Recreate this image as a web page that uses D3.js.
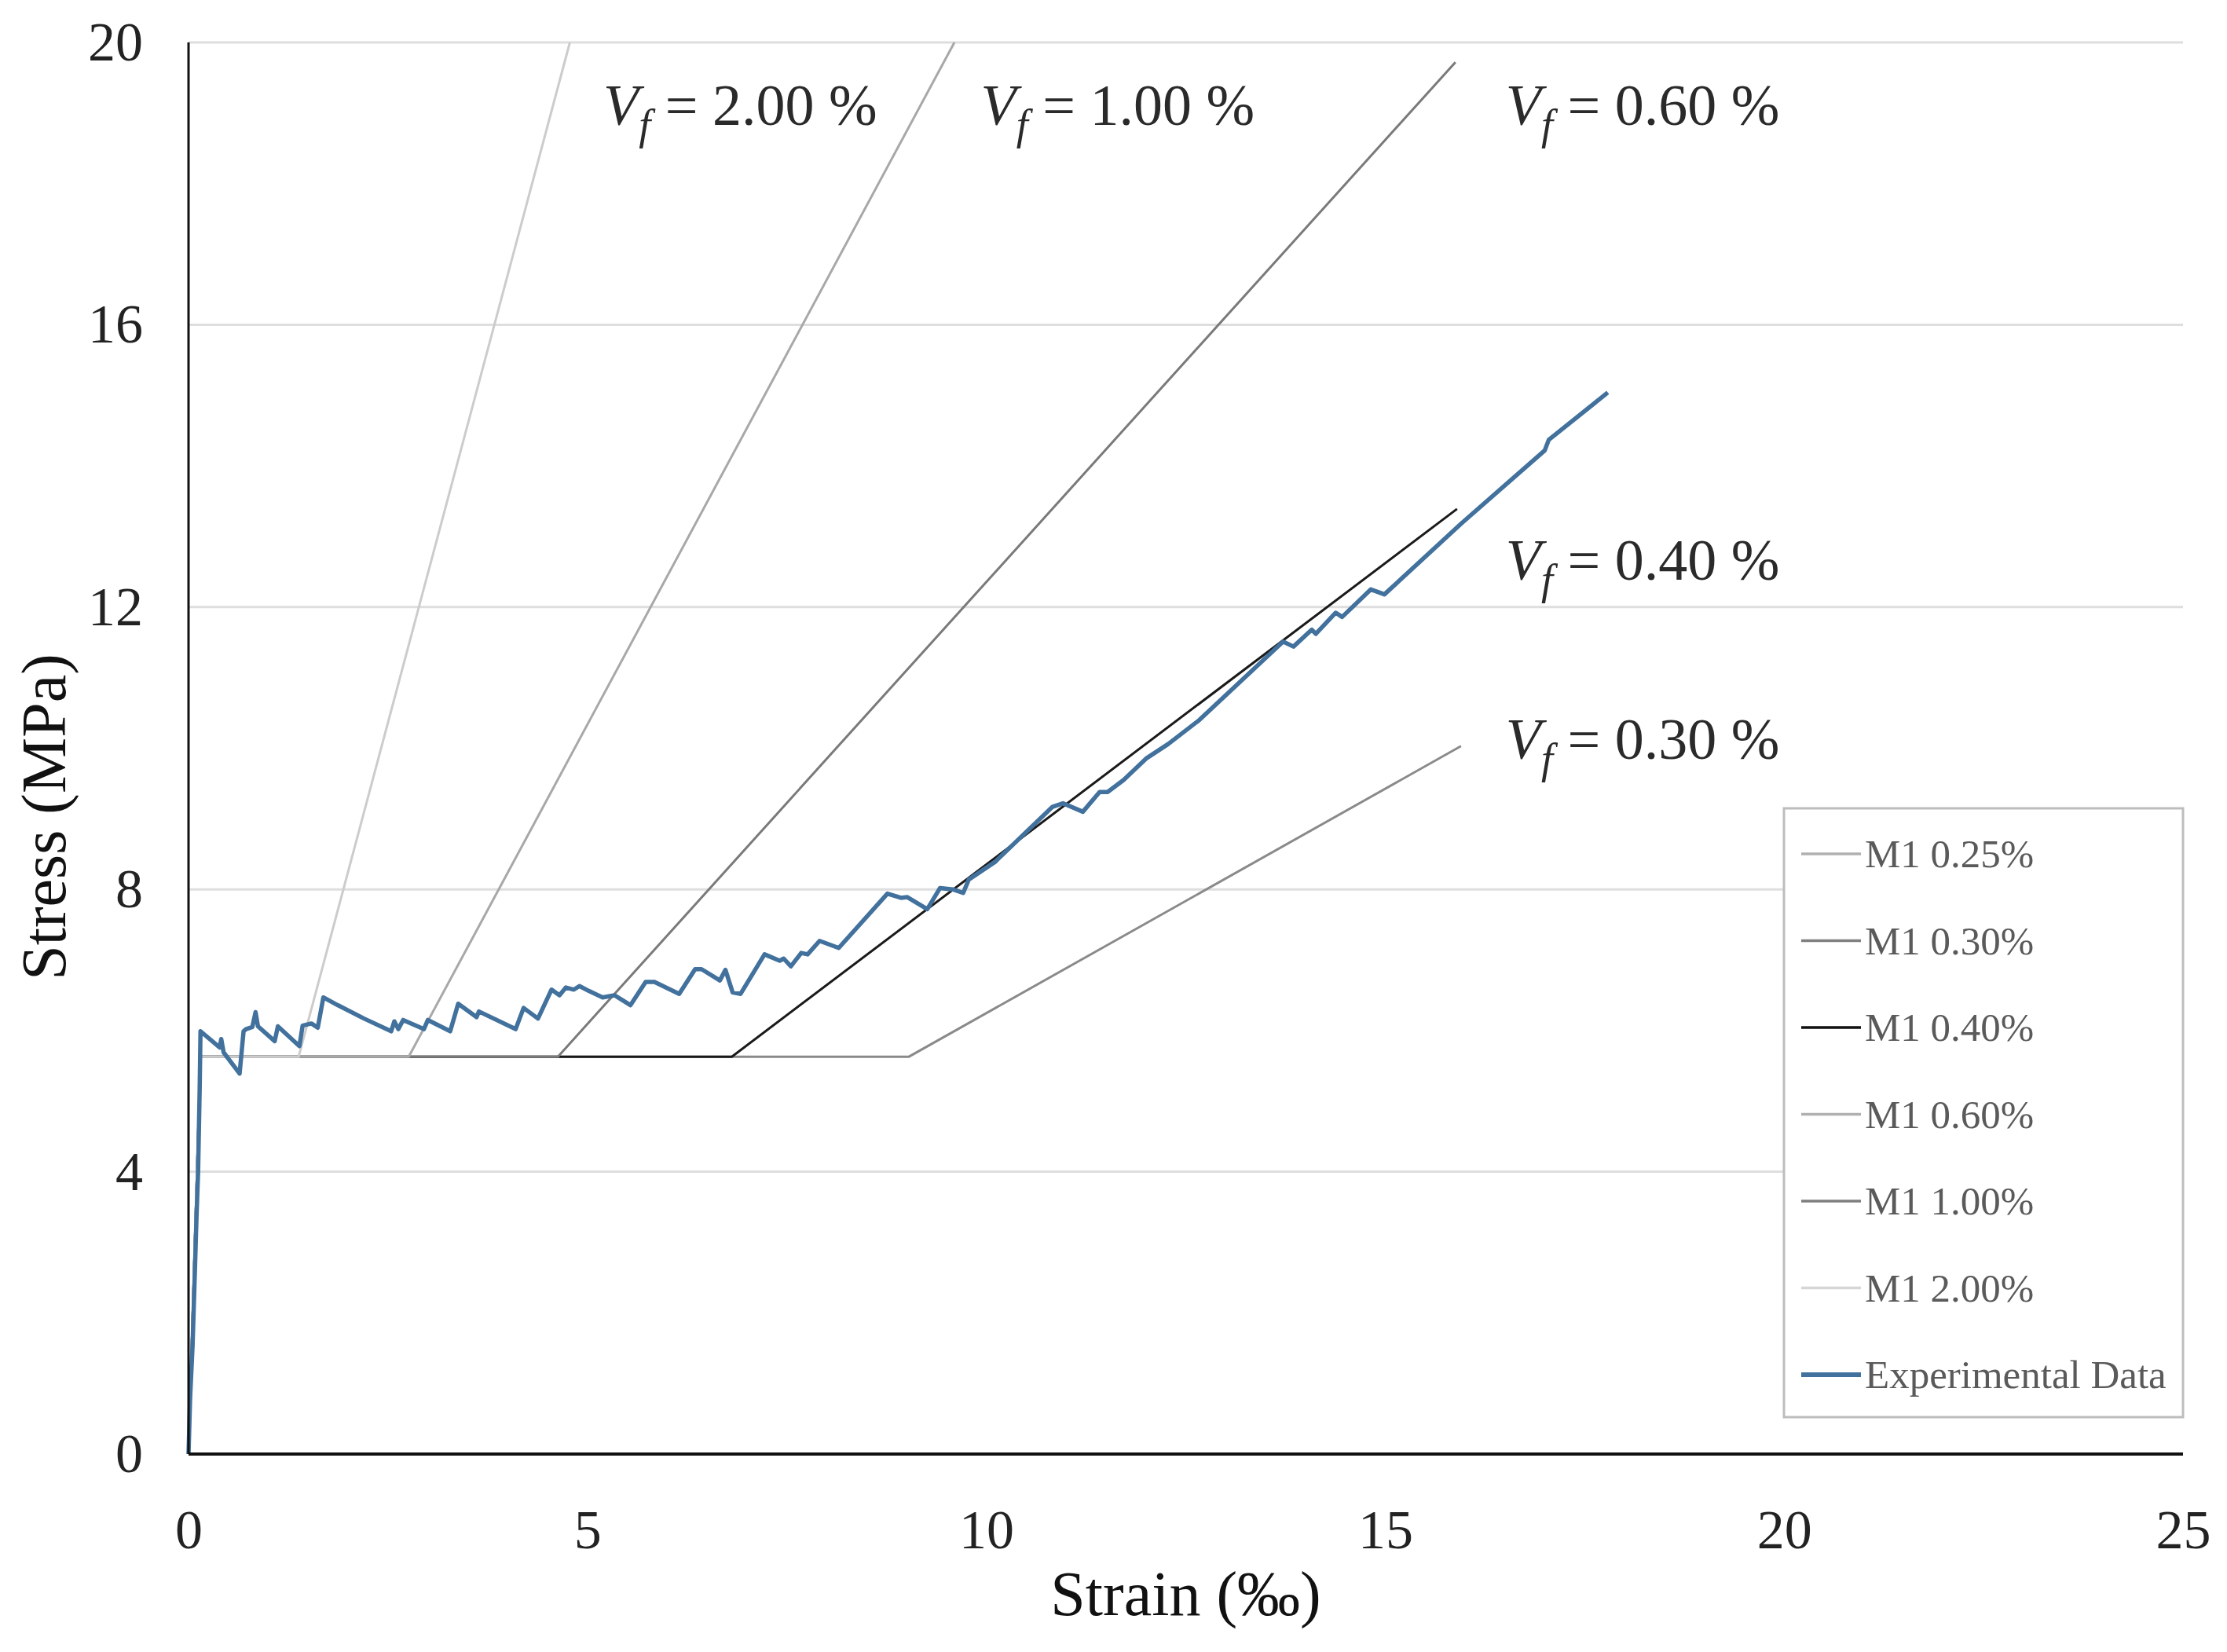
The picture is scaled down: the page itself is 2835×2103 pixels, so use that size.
<!DOCTYPE html>
<html>
<head>
<meta charset="utf-8">
<script src="https://cdn.jsdelivr.net/npm/d3@7"></script>
<style>
  body { margin: 0; background: #fff; }
</style>
</head>
<body>
<div id="chart"></div>
<script>
// axis ticks
var strainTicks = [0, 5, 10, 15, 20, 25];
var stressTicks = [0, 4, 8, 12, 16, 20];

// bilinear model lines
var modelNames = ["M1 0.25%", "M1 0.30%", "M1 0.40%", "M1 0.60%", "M1 1.00%", "M1 2.00%"];
var elasticStrain = 0.15;
var plateauStress = 5.63;
var kinkStrain = [null, 9.03, 6.81, 4.63, 2.76, 1.38];
var endStrain = [null, 15.95, 15.90, 15.88, 9.60, 4.78];
var endStress = [null, 10.03, 13.39, 19.72, 20, 20];

// experimental curve
var expStrain = [0, 0.02, 0.05, 0.08, 0.10, 0.12, 0.14, 0.15,
  0.39, 0.41, 0.44, 0.64, 0.69, 0.72, 0.80, 0.84, 0.87, 1.08, 1.12, 1.39,
  1.43, 1.54, 1.62, 1.69, 1.87, 2.20, 2.54, 2.58, 2.63, 2.69, 2.95, 3.00,
  3.28, 3.38, 3.61, 3.64, 4.10, 4.20, 4.38, 4.55, 4.65, 4.73, 4.83, 4.90,
  5.02, 5.19, 5.34, 5.54, 5.73, 5.84, 6.15, 6.35, 6.43, 6.66, 6.73, 6.82,
  6.92, 7.22, 7.41, 7.46, 7.55, 7.68, 7.76, 7.91, 8.15, 8.76, 8.93, 9.01,
  9.26, 9.42, 9.58, 9.71, 9.78, 10.11, 10.83, 10.96, 11.21, 11.42, 11.52,
  11.72, 12.01, 12.28, 12.67, 13.72, 13.85, 14.08, 14.13, 14.38, 14.46,
  14.82, 14.99, 15.95, 17.00, 17.05, 17.79];
var expStress = [0, 0.8, 1.52, 2.6, 3.36, 4.0, 5.2, 5.99,
  5.76, 5.88, 5.69, 5.39, 5.99, 6.02, 6.05, 6.26, 6.06, 5.85, 6.06, 5.78,
  6.07, 6.10, 6.04, 6.47, 6.36, 6.17, 5.99, 6.13, 6.02, 6.15, 6.02, 6.15,
  5.99, 6.38, 6.19, 6.27, 6.02, 6.32, 6.17, 6.58, 6.50, 6.61, 6.58, 6.63,
  6.56, 6.47, 6.50, 6.36, 6.69, 6.69, 6.52, 6.87, 6.87, 6.71, 6.86, 6.54,
  6.52, 7.08, 6.99, 7.02, 6.91, 7.10, 7.08, 7.27, 7.17, 7.94, 7.88, 7.89,
  7.72, 8.02, 8.00, 7.95, 8.14, 8.39, 9.17, 9.22, 9.10, 9.38, 9.38,
  9.55, 9.86, 10.06, 10.40, 11.51, 11.44, 11.68, 11.62, 11.92, 11.86,
  12.25, 12.18, 13.18, 14.22, 14.37, 15.04];

// annotations
var vfValues = ["2.00", "1.00", "0.60", "0.40", "0.30"];
var vfStrain = [5.2, 9.93, 16.51, 16.51, 16.51];
var vfStress = [18.83, 18.83, 18.83, 12.39, 9.85];

var legendNames = modelNames.concat(["Experimental Data"]);

// styles
var lineColor = {"M1 0.30%": "#8a8a8a", "M1 0.40%": "#1a1a1a", "M1 0.60%": "#7a7a7a",
  "M1 1.00%": "#a8a8a8", "M1 2.00%": "#cccccc"};
var legendColor = ["#b0b0b0", "#7f7f7f", "#111111", "#b0b0b0", "#7f7f7f", "#d6d6d6", "#41719c"];
var expColor = "#41719c";

var width = 2835;
var height = 2103;
var margin = { top: 54, right: 56, bottom: 252, left: 240 };

var svg = d3.select("#chart")
  .append("svg")
  .attr("width", width)
  .attr("height", height)
  .style("background", "#fff");

var x = d3.scaleLinear().domain([0, 25]).range([margin.left, width - margin.right]);
var y = d3.scaleLinear().domain([0, 20]).range([height - margin.bottom, margin.top]);

// horizontal gridlines
svg.append("g")
  .selectAll("line")
  .data(stressTicks.filter(d => d > 0))
  .enter()
  .append("line")
  .attr("x1", x(0))
  .attr("x2", x(25))
  .attr("y1", d => y(d))
  .attr("y2", d => y(d))
  .style("stroke", "#dedede")
  .style("stroke-width", 3);

// tick labels through axes (no tick marks, no domain)
var xAxis = svg.append("g")
  .attr("transform", "translate(0," + y(0) + ")")
  .call(d3.axisBottom(x).tickValues(strainTicks).tickSize(0).tickPadding(70).tickFormat(d3.format("d")));
xAxis.select(".domain").remove();
xAxis.selectAll("text")
  .style("font-family", "'Liberation Serif', serif")
  .style("font-size", "70px")
  .style("fill", "#222");

var yAxis = svg.append("g")
  .attr("transform", "translate(" + x(0) + ",0)")
  .call(d3.axisLeft(y).tickValues(stressTicks).tickSize(0).tickPadding(58).tickFormat(d3.format("d")));
yAxis.select(".domain").remove();
yAxis.selectAll("text")
  .style("font-family", "'Liberation Serif', serif")
  .style("font-size", "70px")
  .style("fill", "#222");

var line = d3.line().x(d => x(d[0])).y(d => y(d[1]));

// model lines, drawn in series order
modelNames.forEach(function (name, i) {
  if (kinkStrain[i] === null) return;
  var pts = [[0, 0], [elasticStrain, plateauStress], [kinkStrain[i], plateauStress], [endStrain[i], endStress[i]]];
  svg.append("path")
    .datum(pts)
    .attr("d", line)
    .style("fill", "none")
    .style("stroke", lineColor[name])
    .style("stroke-width", 3);
});

// experimental data
svg.append("path")
  .datum(expStrain.map((s, i) => [s, expStress[i]]))
  .attr("d", line)
  .style("fill", "none")
  .style("stroke", expColor)
  .style("stroke-width", 5.5)
  .style("stroke-linejoin", "round");

// axis lines
svg.append("line")
  .attr("x1", x(0)).attr("x2", x(0))
  .attr("y1", y(0)).attr("y2", y(20))
  .style("stroke", "#111").style("stroke-width", 3);
svg.append("line")
  .attr("x1", x(0)).attr("x2", x(25))
  .attr("y1", y(0)).attr("y2", y(0))
  .style("stroke", "#111").style("stroke-width", 4);

// Vf annotations
vfValues.forEach(function (v, i) {
  var t = svg.append("text")
    .attr("x", x(vfStrain[i]))
    .attr("y", y(vfStress[i]))
    .style("font-family", "'Liberation Serif', serif")
    .style("font-size", "74px")
    .style("fill", "#2a2a2a");
  t.append("tspan").style("font-style", "italic").text("V");
  t.append("tspan").style("font-style", "italic").style("font-size", "54px")
    .attr("dy", 18).text("f");
  t.append("tspan").attr("dy", -18).text(" = " + v + " %");
});

// axis titles
svg.append("text")
  .attr("text-anchor", "middle")
  .attr("x", (x(0) + x(25)) / 2)
  .attr("y", 2056)
  .style("font-family", "'Liberation Serif', serif")
  .style("font-size", "80px")
  .style("fill", "#111")
  .text("Strain (\u2030)");

svg.append("text")
  .attr("text-anchor", "middle")
  .attr("transform", "translate(83,1040) rotate(-90)")
  .style("font-family", "'Liberation Serif', serif")
  .style("font-size", "80px")
  .style("fill", "#111")
  .text("Stress (MPa)");

// legend
var legend = svg.append("g").attr("transform", "translate(2271,1029)");
legend.append("rect")
  .attr("width", 508)
  .attr("height", 775)
  .style("fill", "#fff")
  .style("stroke", "#bdbdbd")
  .style("stroke-width", 3);

legendNames.forEach(function (name, i) {
  var ly = 58 + i * 110.5;
  legend.append("line")
    .attr("x1", 22).attr("x2", 98)
    .attr("y1", ly).attr("y2", ly)
    .style("stroke", legendColor[i])
    .style("stroke-width", i == 6 ? 6 : 3.5);
  legend.append("text")
    .attr("x", 103)
    .attr("y", ly + 17)
    .style("font-family", "'Liberation Serif', serif")
    .style("font-size", "51px")
    .style("fill", "#5a5a5a")
    .text(name);
});
</script>
</body>
</html>
